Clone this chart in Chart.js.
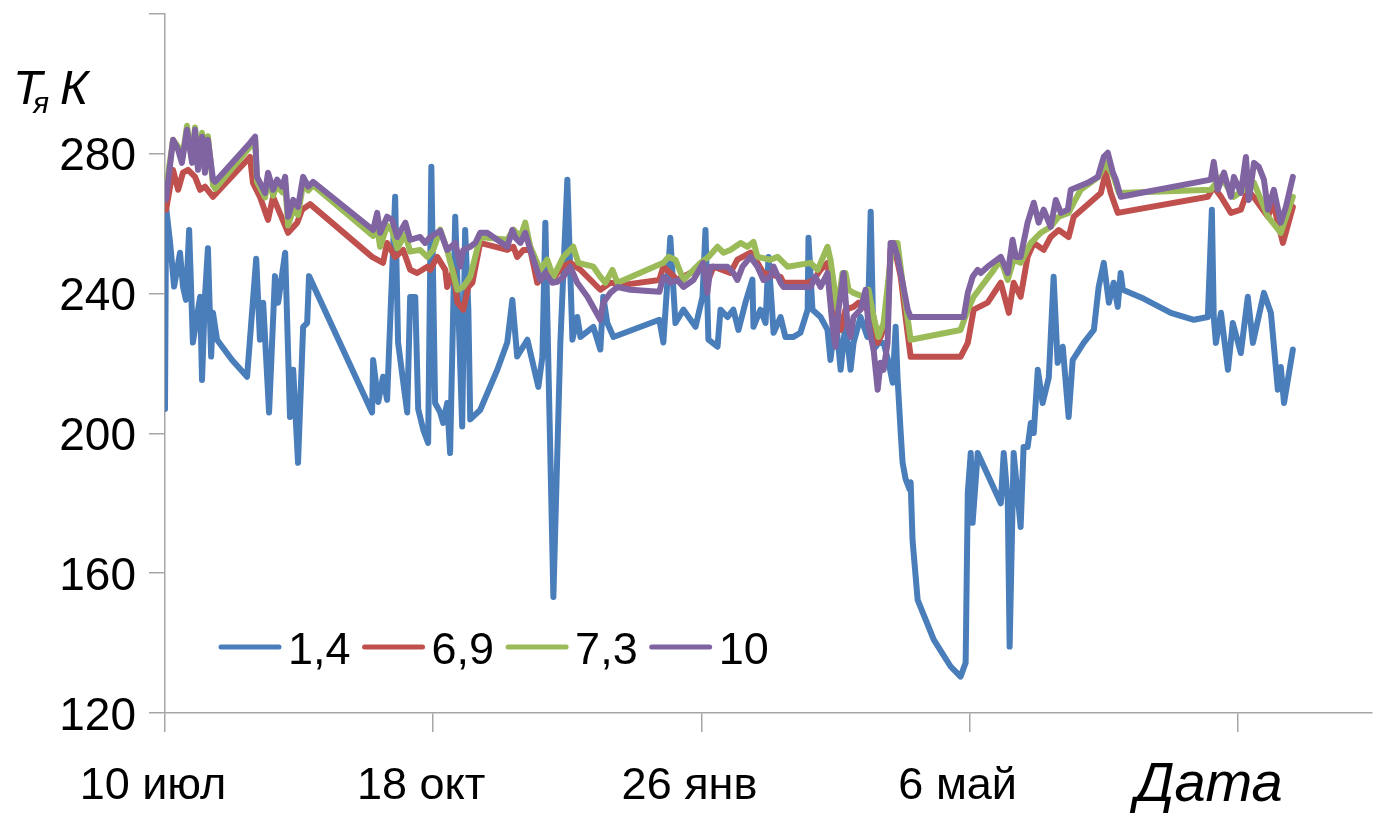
<!DOCTYPE html>
<html>
<head>
<meta charset="utf-8">
<title>Тя К</title>
<script src="https://cdn.jsdelivr.net/npm/chart.js@4.4.1/dist/chart.umd.min.js"></script>
<style>
  html, body { margin: 0; padding: 0; background: #fff; }
  canvas { display: block; }
</style>
</head>
<body>
<canvas id="chart" width="1374" height="822"></canvas>
<script>
// days since 10 июл, temperatures in K
const seriesNames = ['1,4', '6,9', '7,3', '10'];
const xTickDays = [0, 100, 200, 300, 400];
const xTickLabels = ['10 июл', '18 окт', '26 янв', '6 май', ''];

const days14 = [0, 0.4, 1.9, 3.4, 5.6, 6.7, 7.8, 9.0, 10.4, 13.1,
  13.8, 14.9, 16.0, 17.2, 17.9, 19.4, 25, 30.6, 34.0, 35.4,
  36.6, 38.8, 41.0, 42.2, 44.8, 46.6, 47.8, 49.6, 51.5, 53.0,
  53.7, 77.2, 77.6, 79.5, 81.3, 82.8, 85.8, 86.9, 90.3, 91.4,
  93.3, 94.4, 96.3, 98.1, 99.3, 100.7, 102.6, 103.7, 105.2, 106.3,
  108.2, 109.3, 110.8, 111.9, 113.1, 113.8, 117.5, 123.9, 127.6, 129.5,
  131.3, 135.1, 139.2, 140.7, 141.8, 144.8, 147.4, 150.0, 151.9, 153.7,
  154.9, 159.7, 162.3, 163.4, 164.9, 167.2, 184.3, 185.8, 188.4, 190.3,
  193.3, 197.8, 200.4, 201.5, 202.6, 206.0, 207.1, 209.7, 211.9, 213.8,
  216.4, 219.0, 219.4, 222.0, 223.9, 225.0, 226.9, 229.5, 231.3, 234.3,
  236.9, 239.6, 239.9, 241.4, 244.4, 247.0, 248.1, 250.0, 251.9, 253.7,
  255.6, 256.7, 259.3, 261.9, 263.1, 264.2, 266.0, 267.9, 269.8, 271.3,
  272.4, 273.1, 274.3, 275.0, 276.1, 277.6, 278.0, 278.7, 280.6, 286.6,
  292.9, 296.6, 298.5, 299.3, 300.4, 301.1, 303.0, 311.6, 312.7, 314.2,
  314.9, 316.4, 319.0, 320.1, 321.6, 322.8, 323.9, 325.4, 327.2, 329.5,
  331.3, 332.8, 334.7, 336.9, 338.4, 342.5, 346.3, 348.1, 350.0, 351.9,
  353.7, 355.2, 356.3, 357.1, 365, 375, 383.6, 388.8, 390.3, 391.0,
  391.8, 393.7, 396.3, 398.1, 401.1, 403.7, 405.6, 409.7, 412.3, 414.9,
  416.0, 417.2, 420.5];
const temp14 = [207, 264.8, 254.5, 242, 251.7, 242, 238.2, 258.2, 226, 239.1,
  215.3, 239.1, 253, 222, 234.5, 226.8, 221, 216.2, 250, 226.8,
  237.4, 206, 245, 237.4, 251.7, 204.7, 218.2, 191.6, 230.5, 231.6,
  245, 206, 221, 209, 216.2, 209.6, 267.7, 226, 206, 239,
  239, 207, 201, 197.3, 276.3, 208.7, 206, 203, 208.7, 194.4,
  262, 237.4, 202, 258.2, 235.4, 204, 206.7, 218.2, 226, 238.2,
  222, 226.8, 213.3, 221.9, 260.3, 153.2, 226, 272.6, 226.8, 233.3,
  227.6, 230.5, 224, 239.1, 231.6, 227.6, 232.5, 226, 256, 231.6,
  235.4, 230.5, 239.1, 258.2, 226.8, 224.8, 235.4, 233.3, 235.4, 229.6,
  237.4, 244, 230.5, 235.4, 231.6, 250.5, 228.8, 233.3, 227.6, 227.6,
  228.8, 235.4, 256, 235.4, 233.3, 229.6, 221, 233.3, 218.2, 231.6,
  218.2, 225.9, 233.3, 227.6, 263.4, 224, 225.9, 225.9, 220.2, 214.5,
  230.5, 216, 200, 191.6, 187, 184, 186, 169.5, 152.4, 141,
  133.3, 130.4, 134.4, 183, 194.4, 174.4, 194.4, 180, 194.4, 180.7,
  139, 194.4, 173.2, 196.1, 196.1, 203, 200.1, 218.2, 208.7, 216,
  244.8, 220.2, 224.8, 204.7, 221, 225.9, 229.6, 241.9, 248.8, 237.4,
  243.1, 236.2, 245.9, 241.1, 238.5, 234.5, 232.5, 233.3, 264, 233.3,
  225.9, 234.5, 218.2, 231.6, 223, 239.1, 225.9, 240.2, 234.5, 212.5,
  219, 208.7, 224];

const days69 = [0.4, 3.0, 4.9, 6.7, 8.6, 11.2, 13.1, 14.9, 17.9, 31.7,
  32.8, 35.4, 38.4, 40.3, 45.9, 49.3, 51.1, 54.1, 77.2, 81.3,
  82.8, 85.8, 88.8, 91.4, 94.0, 97.8, 98.9, 101.5, 104.5, 105.2,
  107.5, 109.0, 111.2, 113.1, 114.6, 117.5, 127.6, 129.9, 131.3, 133.6,
  136.2, 138.8, 142.5, 144.4, 148.1, 151.1, 154.9, 162.3, 166.0, 170.9,
  184.3, 185.8, 188.4, 191.0, 195.9, 200.7, 202.2, 204.5, 210.8, 213.4,
  218.3, 220.9, 223.1, 229.5, 230.6, 239.6, 241.8, 244.4, 247.0, 249.3,
  251.9, 253.7, 256.7, 258.6, 261.9, 264.2, 265.7, 266.8, 269.4, 270.5,
  271.6, 274.3, 276.1, 278.0, 296.6, 299.3, 301.5, 306.7, 311.6, 314.6,
  316.4, 319.0, 321.6, 323.9, 327.6, 330.2, 333.2, 336.9, 338.8, 348.9,
  350.7, 352.6, 355.2, 388.8, 391.0, 393.7, 397.4, 401.1, 403.7, 406.7,
  411.2, 413.1, 416.8, 420.5];
const temp69 = [264, 275.4, 269.7, 274.6, 275.4, 273.4, 269.7, 270.6, 267.7, 279.1,
  271.7, 267.7, 261.1, 267.7, 257.4, 260.3, 264, 265.6, 250.5, 248.8,
  254.5, 250.5, 252.5, 246.8, 245.9, 247.7, 246.8, 250.5, 246.8, 241.9,
  246.8, 237.4, 235.4, 241.9, 243.1, 254.5, 252.5, 253.4, 250.5, 252.5,
  252.5, 243.1, 245.9, 243.9, 247.7, 248.8, 246.8, 241.1, 243.1, 242.5,
  243.9, 247.7, 245.9, 243.9, 245.9, 247.7, 243.1, 247.7, 245.9, 249.7,
  251.7, 248.8, 245.9, 244.8, 243.1, 243.1, 243.9, 246.8, 248.8, 234.5,
  229.6, 235.4, 236.2, 237.4, 235.4, 233.3, 225.9, 227.6, 233.3, 252.5,
  254.5, 244.8, 233.3, 221.9, 221.9, 225.9, 235.4, 237.4, 243.1, 234.5,
  243.1, 239.1, 250.5, 254.5, 252.5, 256.2, 258.2, 256.2, 262, 268.8,
  274.6, 268.8, 263.1, 267.7, 270.6, 267.7, 263.1, 264, 269.7, 266.8,
  262, 266, 254.5, 264.8];

const days73 = [0.4, 3.0, 4.9, 6.3, 8.2, 10.1, 11.2, 12.3, 13.8, 14.9,
  16.0, 17.9, 18.7, 31.7, 33.6, 34.3, 37.3, 38.4, 40.3, 41.8,
  43.7, 44.8, 45.9, 47.8, 49.6, 51.5, 53.4, 55.2, 77.6, 79.1,
  80.2, 82.8, 84.7, 86.6, 89.6, 91.4, 95.1, 97.8, 100.0, 102.6,
  105.2, 109.0, 111.2, 113.8, 117.5, 127.6, 129.9, 132.5, 134.3, 136.2,
  139.9, 142.5, 144.8, 148.5, 152.2, 154.1, 159.7, 162.3, 164.2, 166.8,
  168.7, 185.8, 187.7, 190.3, 193.3, 199.6, 202.6, 206.0, 208.2, 210.8,
  214.6, 217.2, 219.4, 220.9, 225.7, 228.4, 232.1, 240.7, 243.3, 247.0,
  248.1, 250.7, 252.6, 253.7, 254.9, 256.7, 260.4, 262.3, 264.2, 266.0,
  267.9, 269.8, 271.3, 273.1, 275.0, 278.0, 296.6, 299.3, 301.5, 309.0,
  311.6, 314.2, 316.4, 319.0, 322.8, 326.5, 330.2, 333.2, 336.9, 338.8,
  341.4, 348.1, 350.7, 353.7, 355.6, 389.9, 393.7, 398.5, 406.0, 411.2,
  416.0, 420.5];
const temp73 = [270, 284, 282, 278, 288, 278, 287.5, 276, 286, 275,
  285, 271, 270, 282, 284, 272, 267.5, 273, 268, 271,
  269, 271.5, 259.5, 264, 262.5, 271.5, 269.5, 271, 256.5, 259,
  253.4, 259.5, 258, 253, 257, 252, 252.5, 250.5, 252.5, 258.3,
  252.5, 241.1, 241.9, 244.8, 256.2, 255.4, 258.3, 256.2, 260.3, 253.4,
  246.8, 249.7, 244.8, 250.5, 253.4, 248.8, 247.7, 244.8, 243.1, 246.8,
  243.1, 248.8, 250.5, 249.7, 243.9, 248.8, 250.5, 253.4, 251.7, 252.5,
  254.5, 253.4, 254.8, 250.5, 249.7, 250.5, 247.7, 248.8, 246.8, 253.4,
  249.7, 235.4, 245.9, 245.9, 241.1, 240.2, 239.1, 241.1, 233.3, 227.6,
  231.6, 244.8, 254.5, 254.5, 243.1, 226.8, 229.6, 235.4, 239.1, 246.8,
  249.7, 243.9, 249.7, 248.8, 254.5, 257.4, 259.1, 262, 263.1, 266,
  269.7, 273.4, 277.4, 273.4, 268.8, 269.7, 273.4, 267.7, 271.7, 262,
  257.4, 267.7];

const days10 = [0.4, 3.0, 4.9, 6.3, 8.2, 10.1, 11.2, 12.3, 13.8, 14.9,
  16.0, 17.9, 18.7, 31.7, 33.6, 34.3, 37.3, 38.4, 40.3, 41.8,
  43.7, 44.8, 45.9, 47.8, 49.6, 51.5, 53.4, 55.2, 77.6, 79.1,
  80.2, 82.8, 84.7, 86.6, 89.6, 91.4, 95.1, 97.0, 98.9, 102.6,
  105.2, 108.2, 110.1, 111.2, 113.8, 115.7, 117.5, 120.1, 127.6, 129.5,
  130.6, 132.5, 134.3, 136.2, 139.9, 141.8, 144.4, 146.3, 148.5, 151.1,
  153.7, 157.5, 162.3, 163.4, 166.0, 168.7, 173.5, 184.3, 185.8, 188.4,
  191.0, 193.3, 197.0, 200.7, 202.2, 203.4, 208.2, 209.7, 211.9, 213.4,
  215.3, 218.3, 220.9, 223.1, 225.7, 226.9, 229.5, 230.6, 236.9, 240.7,
  242.5, 244.4, 247.0, 248.9, 250.0, 251.1, 253.0, 254.5, 255.6, 256.7,
  259.3, 261.2, 262.3, 264.2, 265.7, 266.8, 267.9, 269.4, 270.5, 271.6,
  273.1, 275.0, 276.9, 278.0, 297.8, 299.3, 301.1, 303.0, 304.1, 306.7,
  311.6, 314.2, 316.0, 317.2, 319.0, 321.6, 323.9, 325.7, 327.6, 330.2,
  332.1, 334.0, 336.6, 337.7, 344.0, 347.8, 350.0, 351.5, 353.4, 354.5,
  356.3, 389.9, 391.0, 392.5, 394.8, 397.4, 398.5, 401.1, 403.0, 404.1,
  406.0, 407.8, 409.7, 411.2, 413.4, 416.0, 417.9, 420.5];
const temp10 = [267, 284, 281.1, 277.4, 286.9, 277.4, 286.9, 275.4, 284.9, 274.6,
  284, 272.6, 272, 283.1, 284.9, 273.4, 268.8, 274.6, 269.7, 272.6,
  270.6, 273.4, 262, 266.8, 264.8, 273.4, 270.6, 272, 258.2, 263.1,
  257.4, 262, 261.1, 256.2, 260.3, 255.4, 256.2, 254.5, 256.2, 258,
  252.5, 254.5, 247.7, 252.5, 253.4, 254.5, 257.4, 257.4, 253.4, 258.2,
  256, 254.5, 257.4, 252.5, 243.9, 245.9, 243.1, 243.4, 244.8, 247.7,
  243.1, 239.1, 232.5, 237.4, 240.2, 241.9, 241.1, 240.5, 244.8, 243.1,
  243.9, 241.9, 243.9, 248.8, 240.2, 247.7, 247.7, 247.7, 245.9, 243.9,
  247.7, 250.5, 247.7, 243.9, 244.8, 247.7, 243.1, 241.9, 241.9, 241.9,
  244.8, 241.9, 245.9, 230.5, 224.8, 235.4, 245.9, 230.5, 227.6, 233.3,
  235.4, 241.1, 230.5, 223.9, 212.5, 220.2, 218.2, 225.9, 254.5, 254.5,
  250.5, 243.1, 235.4, 233.3, 233.3, 240.2, 244.8, 246.8, 245.9, 247.7,
  250.5, 245.9, 255.4, 250.5, 250.5, 260.3, 266, 260.3, 264, 259.1,
  266.8, 263.1, 264, 269.7, 271.7, 273.4, 279.1, 280.3, 274.6, 272.6,
  267.7, 272.6, 277.7, 269.7, 274.6, 267.7, 273.4, 268.8, 279.1, 266.8,
  277.4, 276.3, 272.6, 264, 269.7, 260.3, 264.8, 273.4];

const FONT = "'Liberation Sans', Arial, sans-serif";
const axisColor = '#a6a6a6';

function points(days, temps) {
  return days.map((d, i) => ({ x: d, y: temps[i] }));
}

function makeSet(label, days, temps, color, order) {
  return {
    label: label,
    data: points(days, temps),
    borderColor: color,
    backgroundColor: color,
    borderWidth: 6,
    pointRadius: 0,
    tension: 0,
    borderJoinStyle: 'round',
    borderCapStyle: 'round',
    order: order
  };
}

// legend, axis captions
const captions = {
  id: 'captions',
  afterDraw(chart) {
    const ctx = chart.ctx;
    ctx.save();
    ctx.fillStyle = '#000';
    ctx.textBaseline = 'alphabetic';

    ctx.font = 'italic 48px ' + FONT;
    ctx.fillText('Т', 13, 104);
    ctx.fillText('К', 60, 104);
    ctx.font = 'italic 30px ' + FONT;
    ctx.fillText('я', 33, 113);

    ctx.font = 'italic 56px ' + FONT;
    ctx.fillText('Дата', 1135, 801);

    // legend
    let x = 221;
    const y = 647;
    ctx.font = '45px ' + FONT;
    chart.data.datasets.forEach(ds => {
      ctx.strokeStyle = ds.borderColor;
      ctx.lineWidth = 5;
      ctx.lineCap = 'round';
      ctx.beginPath();
      ctx.moveTo(x, y);
      ctx.lineTo(x + 58, y);
      ctx.stroke();
      x += 67;
      ctx.fillText(ds.label, x, 664);
      x += ctx.measureText(ds.label).width + 14;
    });
    ctx.restore();
  }
};

new Chart(document.getElementById('chart'), {
  type: 'line',
  data: {
    datasets: [
      makeSet(seriesNames[0], days14, temp14, '#4a7ebb', 3),
      makeSet(seriesNames[1], days69, temp69, '#c0504d', 2),
      makeSet(seriesNames[2], days73, temp73, '#9bbb59', 1),
      makeSet(seriesNames[3], days10, temp10, '#8064a2', 0)
    ]
  },
  options: {
    responsive: false,
    animation: false,
    devicePixelRatio: 1,
    layout: { padding: { left: 0, top: 14, right: 2, bottom: 0 } },
    plugins: {
      legend: { display: false },
      tooltip: { enabled: false }
    },
    scales: {
      x: {
        type: 'linear',
        min: 0,
        max: 450,
        afterBuildTicks: scale => {
          scale.ticks = xTickDays.map(v => ({ value: v }));
        },
        afterFit: scale => {
          scale.height = 109;
          scale.paddingLeft = 0;
          scale.paddingRight = 0;
        },
        grid: {
          drawOnChartArea: false,
          drawTicks: true,
          tickLength: 19,
          color: axisColor,
          lineWidth: 1.5
        },
        border: { color: axisColor, width: 1.5 },
        ticks: {
          autoSkip: false,
          maxRotation: 0,
          padding: 28,
          labelOffset: -12,
          color: '#000',
          font: { family: FONT, size: 45 },
          callback: v => xTickLabels[xTickDays.indexOf(v)]
        }
      },
      y: {
        min: 120,
        max: 320,
        afterFit: scale => {
          scale.width = 165;
          scale.paddingTop = 0;
          scale.paddingBottom = 0;
        },
        grid: {
          drawOnChartArea: false,
          drawTicks: true,
          tickLength: 16,
          color: axisColor,
          lineWidth: 1.5
        },
        border: { color: axisColor, width: 1.5 },
        ticks: {
          stepSize: 40,
          padding: 13,
          labelOffset: 4,
          color: '#000',
          font: { family: FONT, size: 46 },
          callback: v => (v === 320 ? '' : v)
        }
      }
    }
  },
  plugins: [captions]
});
</script>
</body>
</html>
